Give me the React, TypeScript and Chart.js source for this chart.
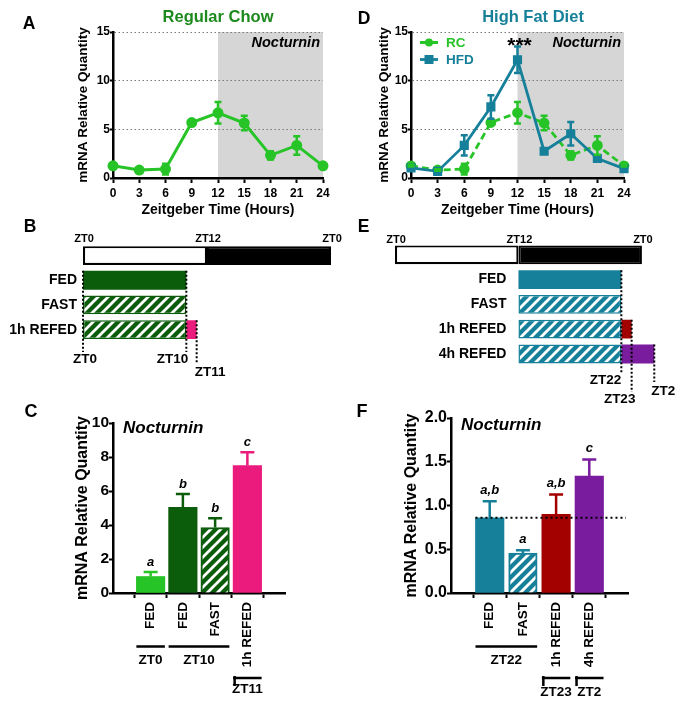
import React, { useEffect, useRef } from 'react';
import { Chart, registerables } from 'chart.js';

Chart.register(...registerables);

const FONT = '"Liberation Sans", Arial, Helvetica, sans-serif';
Chart.defaults.font.family = FONT;
Chart.defaults.color = '#000';

const GREEN = '#27c427';
const DK_GREEN = '#0b5d0b';
const TITLE_GREEN = '#1e8a1e';
const TEAL = '#16809a';
const MAGENTA = '#ea1b7c';
const RED = '#a30000';
const PURPLE = '#7a1c9e';
const SHADE = '#d6d6d6';

// ---- Panels A & D : time course ----
const hours = [0, 3, 6, 9, 12, 15, 18, 21, 24];
const rcMean = [1.25, 0.82, 0.92, 5.7, 6.7, 5.65, 2.33, 3.35, 1.25];
const rcErr = [0.08, 0.08, 0.55, 0.12, 1.1, 0.75, 0.42, 0.95, 0.08];
const hfdMean = [1.03, 0.68, 3.35, 7.3, 12.15, 2.75, 4.55, 2.0, 0.96];
const hfdErr = [0.12, 0.1, 1.05, 1.2, 1.35, 0.25, 1.2, 0.2, 0.1];
const lineYTicks = [0, 5, 10, 15];
const nightStart = 12;
const nightEnd = 24;

// ---- Panel B : schedule (regular chow) ----
const bRows = ['', 'FED', 'FAST', '1h REFED'];
const bLight = [[0, 12], null, null, null];
const bDark = [[12, 24], null, null, null];
const bFed = [null, [0, 10], null, null];
const bFast = [null, null, [0, 10], [0, 10]];
const bRefed = [null, null, null, [10, 11]];
const bTopTicks = [0, 12, 24];
const bMarkerTimes = [0, 10, 11];
const bMarkerLabels = ['ZT0', 'ZT10', 'ZT11'];

// ---- Panel E : schedule (high fat diet) ----
const eRows = ['', 'FED', 'FAST', '1h REFED', '4h REFED'];
const eLight = [[0, 12], null, null, null, null];
const eDark = [[12, 24], null, null, null, null];
const eFed = [null, [12, 22], null, null, null];
const eFast = [null, null, [12, 22], [12, 22], [12, 22]];
const eRefed1 = [null, null, null, [22, 23], null];
const eRefed4 = [null, null, null, null, [22, 25.2]];
const eTopTicks = [0, 12, 24];
const eMarkerTimes = [22, 23, 25.2];
const eMarkerLabels = ['ZT22', 'ZT23', 'ZT2'];

// ---- Panel C : bars (regular chow) ----
const cLabels = ['FED', 'FED', 'FAST', '1h REFED'];
const cMeans = [0.97, 5.04, 3.85, 7.5];
const cErr = [0.26, 0.78, 0.54, 0.78];
const cLetters = ['a', 'b', 'b', 'c'];
const cYTicks = [0, 2, 4, 6, 8, 10];
const cGroupLabels = ['ZT0', 'ZT10', 'ZT11'];
const cGroupFrom = [0, 1, 3];
const cGroupTo = [0, 2, 3];

// ---- Panel F : bars (high fat diet) ----
const fLabels = ['FED', 'FAST', '1h REFED', '4h REFED'];
const fMeans = [0.86, 0.455, 0.9, 1.335];
const fErr = [0.19, 0.035, 0.225, 0.19];
const fLetters = ['a,b', 'a', 'a,b', 'c'];
const fYTicks = [0, 0.5, 1, 1.5, 2];
const fRef = 0.86;
const fGroupLabels = ['ZT22', 'ZT23', 'ZT2'];
const fGroupFrom = [0, 2, 3];
const fGroupTo = [1, 2, 3];

// ---------- helpers ----------
function txt(ctx: CanvasRenderingContext2D, s: string, x: number, y: number, size: number, o: any = {}) {
  ctx.save();
  ctx.font = `${o.italic ? 'italic ' : ''}${o.weight ?? 'bold'} ${size}px ${FONT}`;
  ctx.fillStyle = o.color ?? '#000';
  ctx.textAlign = o.align ?? 'center';
  ctx.textBaseline = o.baseline ?? 'middle';
  ctx.fillText(s, x, y);
  ctx.restore();
}

function dotted(ctx: CanvasRenderingContext2D, x1: number, y1: number, x2: number, y2: number, w = 2, dash = [2, 2]) {
  ctx.save();
  ctx.strokeStyle = '#000';
  ctx.lineWidth = w;
  ctx.setLineDash(dash);
  ctx.beginPath();
  ctx.moveTo(x1, y1);
  ctx.lineTo(x2, y2);
  ctx.stroke();
  ctx.restore();
}

function solid(ctx: CanvasRenderingContext2D, x1: number, y1: number, x2: number, y2: number, w = 2.5, color = '#000') {
  ctx.save();
  ctx.strokeStyle = color;
  ctx.lineWidth = w;
  ctx.setLineDash([]);
  ctx.beginPath();
  ctx.moveTo(x1, y1);
  ctx.lineTo(x2, y2);
  ctx.stroke();
  ctx.restore();
}

function hatch(base: string) {
  const s = 10;
  const c = document.createElement('canvas');
  c.width = s;
  c.height = s;
  const g = c.getContext('2d')!;
  g.fillStyle = base;
  g.fillRect(0, 0, s, s);
  g.strokeStyle = '#ffffff';
  g.lineWidth = 2.8;
  g.beginPath();
  g.moveTo(-1, s + 1); g.lineTo(s + 1, -1);
  g.moveTo(-s / 2 - 1, s / 2 + 1); g.lineTo(s / 2 + 1, -s / 2 - 1);
  g.moveTo(s / 2 - 1, s * 1.5 + 1); g.lineTo(s * 1.5 + 1, s / 2 - 1);
  g.stroke();
  return g.createPattern(c, 'repeat') as CanvasPattern;
}

function drawErrorBars(chart: any, mode: 'both' | 'up', cap: number) {
  const ctx = chart.ctx as CanvasRenderingContext2D;
  const ys = chart.scales.y;
  chart.data.datasets.forEach((ds: any, di: number) => {
    if (!ds.errors) return;
    const meta = chart.getDatasetMeta(di);
    meta.data.forEach((el: any, i: number) => {
      const raw = ds.data[i];
      const v = typeof raw === 'number' ? raw : raw.y;
      const e = ds.errors[i];
      const x = el.x;
      const yHi = ys.getPixelForValue(v + e);
      const yLo = ys.getPixelForValue(mode === 'both' ? v - e : v);
      const color = Array.isArray(ds.errorColor) ? ds.errorColor[i] : ds.errorColor;
      ctx.save();
      ctx.strokeStyle = color;
      ctx.lineWidth = 2.5;
      ctx.setLineDash([]);
      ctx.beginPath();
      ctx.moveTo(x, yLo);
      ctx.lineTo(x, yHi);
      ctx.moveTo(x - cap / 2, yHi);
      ctx.lineTo(x + cap / 2, yHi);
      if (mode === 'both') {
        ctx.moveTo(x - cap / 2, yLo);
        ctx.lineTo(x + cap / 2, yLo);
      }
      ctx.stroke();
      ctx.restore();
    });
  });
}

const baseOpts = {
  responsive: false,
  animation: false as const,
  events: [] as any[],
};

// ---------- Line panels ----------
function lineScales(yAxisWidth: number, yTitleCenter: number) {
  return {
    x: {
      type: 'linear',
      min: 0,
      max: 24,
      afterBuildTicks: (s: any) => { s.ticks = hours.map((v) => ({ value: v })); },
      afterFit: (s: any) => { s.height = 47; },
      ticks: { font: { size: 12, weight: 'bold' }, color: '#000', padding: 3, autoSkip: false, maxRotation: 0 },
      grid: { drawOnChartArea: false, tickLength: 5, tickColor: '#000', tickWidth: 2 },
      border: { color: '#000', width: 2.5 },
      title: { display: true, text: 'Zeitgeber Time (Hours)', font: { size: 14, weight: 'bold' }, color: '#000', padding: { top: 0, bottom: 6.6 } },
    },
    y: {
      type: 'linear',
      min: 0,
      max: 15,
      afterBuildTicks: (s: any) => { s.ticks = lineYTicks.map((v) => ({ value: v })); },
      afterFit: (s: any) => { s.width = yAxisWidth; },
      ticks: { font: { size: 12, weight: 'bold' }, color: '#000', padding: 0 },
      grid: {
        color: (c: any) => (c.tick && c.tick.value === 0 ? 'rgba(0,0,0,0)' : '#7a7a7a'),
        lineWidth: 1,
        tickLength: 3,
        tickColor: '#000',
        tickWidth: 2,
      },
      border: { color: '#000', width: 2.5, dash: [1.5, 2.5] },
      title: { display: true, text: 'mRNA Relative Quantity', font: { size: 13.5, weight: 'bold' }, color: '#000', padding: { top: yTitleCenter - 8.1, bottom: 0 } },
    },
  };
}

const shadePlugin = {
  id: 'shade',
  beforeDraw(chart: any) {
    const { ctx, chartArea } = chart;
    const xs = chart.scales.x;
    const x1 = xs.getPixelForValue(nightStart);
    const x2 = xs.getPixelForValue(nightEnd);
    ctx.save();
    ctx.fillStyle = SHADE;
    ctx.fillRect(x1, chartArea.top, x2 - x1, chartArea.bottom - chartArea.top);
    ctx.restore();
  },
};

function buildA() {
  return {
    type: 'line',
    data: {
      datasets: [
        {
          data: hours.map((h, i) => ({ x: h, y: rcMean[i] })),
          errors: rcErr,
          errorColor: GREEN,
          borderColor: GREEN,
          backgroundColor: GREEN,
          pointBorderColor: GREEN,
          pointBackgroundColor: GREEN,
          borderWidth: 3,
          pointRadius: 4,
          tension: 0,
          clip: false,
        },
      ],
    },
    options: {
      ...baseOpts,
      layout: { padding: { left: 0, right: 20, top: 32, bottom: 0 } },
      plugins: { legend: { display: false }, tooltip: { enabled: false } },
      scales: lineScales(113, 83),
    },
    plugins: [
      shadePlugin,
      {
        id: 'decoA',
        afterDatasetsDraw(chart: any) { drawErrorBars(chart, 'both', 7); },
        afterDraw(chart: any) {
          const { ctx, chartArea } = chart;
          txt(ctx, 'A', 29, 24, 17.5);
          txt(ctx, 'Regular Chow', (chartArea.left + chartArea.right) / 2, 17, 16.5, { color: TITLE_GREEN });
          txt(ctx, 'Nocturnin', chartArea.right - 3, 43, 14.5, { italic: true, align: 'right' });
        },
      },
    ],
  };
}

function buildD() {
  return {
    type: 'line',
    data: {
      datasets: [
        {
          label: 'HFD',
          data: hours.map((h, i) => ({ x: h, y: hfdMean[i] })),
          errors: hfdErr,
          errorColor: TEAL,
          borderColor: TEAL,
          backgroundColor: TEAL,
          pointBorderColor: TEAL,
          pointBackgroundColor: TEAL,
          pointStyle: 'rect',
          borderWidth: 2.8,
          pointRadius: 4.5,
          tension: 0,
          clip: false,
        },
        {
          label: 'RC',
          data: hours.map((h, i) => ({ x: h, y: rcMean[i] })),
          errors: rcErr,
          errorColor: GREEN,
          borderColor: GREEN,
          backgroundColor: GREEN,
          pointBorderColor: GREEN,
          pointBackgroundColor: GREEN,
          borderDash: [7, 4],
          borderWidth: 2.8,
          pointRadius: 4,
          tension: 0,
          clip: false,
        },
      ],
    },
    options: {
      ...baseOpts,
      layout: { padding: { left: 0, right: 62, top: 32, bottom: 0 } },
      plugins: { legend: { display: false }, tooltip: { enabled: false } },
      scales: lineScales(68, 41),
    },
    plugins: [
      shadePlugin,
      {
        id: 'decoD',
        afterDatasetsDraw(chart: any) { drawErrorBars(chart, 'both', 7); },
        afterDraw(chart: any) {
          const { ctx, chartArea } = chart;
          const xs = chart.scales.x;
          txt(ctx, 'D', 21, 19.5, 17.5);
          txt(ctx, 'High Fat Diet', 190, 17, 16.5, { color: TEAL });
          txt(ctx, 'Nocturnin', chartArea.right - 3, 43, 14.5, { italic: true, align: 'right' });
          txt(ctx, '***', xs.getPixelForValue(12) + 2, 52, 21, { baseline: 'alphabetic' });
          // legend
          ctx.save();
          ctx.strokeStyle = GREEN; ctx.lineWidth = 2.8; ctx.setLineDash([7, 4]);
          ctx.beginPath(); ctx.moveTo(77, 42.5); ctx.lineTo(95, 42.5); ctx.stroke();
          ctx.setLineDash([]);
          ctx.fillStyle = GREEN; ctx.beginPath(); ctx.arc(86, 42.5, 4, 0, Math.PI * 2); ctx.fill();
          ctx.strokeStyle = TEAL; ctx.beginPath(); ctx.moveTo(77, 59.5); ctx.lineTo(95, 59.5); ctx.stroke();
          ctx.fillStyle = TEAL; ctx.fillRect(86 - 4.5, 59.5 - 4.5, 9, 9);
          ctx.restore();
          txt(ctx, 'RC', 103, 43, 13.5, { color: GREEN, align: 'left' });
          txt(ctx, 'HFD', 103, 60, 13.5, { color: TEAL, align: 'left' });
        },
      },
    ],
  };
}

// ---------- Schedule panels ----------
function scheduleDecor(id: string, cfg: any) {
  return {
    id,
    afterDraw(chart: any) {
      const ctx = chart.ctx as CanvasRenderingContext2D;
      const xs = chart.scales.x;
      const ys = chart.scales.y;
      const half = (ys.getPixelForValue(1) - ys.getPixelForValue(0)) * 0.76 / 2;
      txt(ctx, cfg.letter, cfg.letterX, cfg.letterY, 17.5);
      cfg.topTicks.forEach((t: number) => {
        txt(ctx, 'ZT' + (t % 24), xs.getPixelForValue(t) + 1, cfg.topY, 11);
      });
      cfg.rows.forEach((r: string, i: number) => {
        if (!r) return;
        txt(ctx, r, xs.getPixelForValue(cfg.labelAt) - cfg.labelGap, ys.getPixelForValue(i), 14, { align: 'right' });
      });
      cfg.markerTimes.forEach((t: number, i: number) => {
        const m = cfg.markerLayout[i];
        const x = xs.getPixelForValue(t);
        dotted(ctx, x, ys.getPixelForValue(m.row) - half, x, m.yEnd);
        txt(ctx, cfg.markerLabels[i], x + m.dx, m.labelY, 13.5, { align: m.align });
      });
    },
  };
}

function buildB() {
  const hg = hatch(DK_GREEN);
  return {
    type: 'bar',
    data: {
      labels: bRows,
      datasets: [
        { data: bLight, backgroundColor: '#ffffff', borderColor: '#000', borderWidth: 2.2, borderSkipped: false },
        { data: bDark, backgroundColor: '#000', borderColor: '#000', borderWidth: 2, borderSkipped: false },
        { data: bFed, backgroundColor: DK_GREEN, borderWidth: 0 },
        { data: bFast, backgroundColor: hg, borderColor: DK_GREEN, borderWidth: 1.5, borderSkipped: false },
        { data: bRefed, backgroundColor: MAGENTA, borderWidth: 0 },
      ],
    },
    options: {
      ...baseOpts,
      indexAxis: 'y',
      datasets: { bar: { grouped: false, barPercentage: 0.76, categoryPercentage: 1 } },
      layout: { padding: { left: 83, right: 12, top: 38.2, bottom: 38 } },
      plugins: { legend: { display: false }, tooltip: { enabled: false } },
      scales: {
        x: { type: 'linear', min: 0, max: 24, display: false },
        y: { type: 'category', display: false },
      },
    },
    plugins: [
      scheduleDecor('decoB', {
        letter: 'B', letterX: 30, letterY: 22, topTicks: bTopTicks, topY: 34,
        rows: bRows, labelAt: 0, labelGap: 6,
        markerTimes: bMarkerTimes, markerLabels: bMarkerLabels,
        markerLayout: [
          { row: 1, yEnd: 147, labelY: 154.5, align: 'center', dx: 2 },
          { row: 1, yEnd: 147, labelY: 154.5, align: 'right', dx: 2 },
          { row: 3, yEnd: 158, labelY: 167, align: 'left', dx: -2 },
        ],
      }),
    ],
  };
}

function buildE() {
  const ht = hatch(TEAL);
  return {
    type: 'bar',
    data: {
      labels: eRows,
      datasets: [
        { data: eLight, backgroundColor: '#ffffff', borderColor: '#000', borderWidth: 2.2, borderSkipped: false },
        { data: eDark, backgroundColor: '#000', borderColor: '#000', borderWidth: 2, borderSkipped: false },
        { data: eFed, backgroundColor: TEAL, borderWidth: 0 },
        { data: eFast, backgroundColor: ht, borderColor: TEAL, borderWidth: 1.5, borderSkipped: false },
        { data: eRefed1, backgroundColor: RED, borderWidth: 0 },
        { data: eRefed4, backgroundColor: PURPLE, borderWidth: 0 },
      ],
    },
    options: {
      ...baseOpts,
      indexAxis: 'y',
      datasets: { bar: { grouped: false, barPercentage: 0.76, categoryPercentage: 1 } },
      layout: { padding: { left: 52, right: 23.5, top: 37.4, bottom: 38.6 } },
      plugins: { legend: { display: false }, tooltip: { enabled: false } },
      scales: {
        x: { type: 'linear', min: 0, max: 26, display: false },
        y: { type: 'category', display: false },
      },
    },
    plugins: [
      scheduleDecor('decoE', {
        letter: 'E', letterX: 20.5, letterY: 22, topTicks: eTopTicks, topY: 35,
        rows: eRows, labelAt: 12, labelGap: 12,
        markerTimes: eMarkerTimes, markerLabels: eMarkerLabels,
        markerLayout: [
          { row: 1, yEnd: 168, labelY: 175.5, align: 'right', dx: 0 },
          { row: 3, yEnd: 187, labelY: 194, align: 'center', dx: -12 },
          { row: 4, yEnd: 177, labelY: 186, align: 'left', dx: -3 },
        ],
      }),
    ],
  };
}

// ---------- Bar panels ----------
function barScales(o: any) {
  return {
    x: {
      type: 'linear',
      min: -0.5,
      max: 3.5,
      afterBuildTicks: (s: any) => { s.ticks = o.labels.map((_: string, i: number) => ({ value: i })); },
      afterFit: (s: any) => { s.height = 114; },
      ticks: {
        callback: (v: any) => o.labels[v] ?? '',
        font: { size: 13.5, weight: 'bold' },
        color: '#000',
        minRotation: 90,
        maxRotation: 90,
        autoSkip: false,
        padding: 4,
      },
      grid: { drawOnChartArea: false, tickLength: 5, tickColor: '#000', tickWidth: 2 },
      border: { color: '#000', width: 2.5 },
    },
    y: {
      type: 'linear',
      min: 0,
      max: o.yMax,
      afterBuildTicks: (s: any) => { s.ticks = o.yTicks.map((v: number) => ({ value: v })); },
      afterFit: (s: any) => { s.width = o.yAxisWidth; },
      ticks: { callback: o.fmt, font: { size: o.tickSize, weight: 'bold' }, color: '#000', padding: 0 },
      grid: { drawOnChartArea: false, tickLength: 4, tickColor: '#000', tickWidth: 2 },
      border: { color: '#000', width: 2.5 },
      title: { display: true, text: 'mRNA Relative Quantity', font: { size: 16, weight: 'bold' }, color: '#000', padding: { top: o.yTitleCenter - 9.6, bottom: 0 } },
    },
  };
}

function barDecor(id: string, cfg: any) {
  return {
    id,
    afterDatasetsDraw(chart: any) { drawErrorBars(chart, 'up', 14); },
    afterDraw(chart: any) {
      const ctx = chart.ctx as CanvasRenderingContext2D;
      const xs = chart.scales.x;
      const ys = chart.scales.y;
      const hw = 14.25;
      txt(ctx, cfg.letter, cfg.letterX, cfg.letterY, 18);
      txt(ctx, 'Nocturnin', cfg.nocX, cfg.nocY, 17, { italic: true, align: 'left' });
      if (cfg.ref !== undefined) {
        const y = ys.getPixelForValue(cfg.ref);
        dotted(ctx, xs.getPixelForValue(0) - hw, y, chart.chartArea.right - 2, y, 2, [2, 3]);
      }
      cfg.means.forEach((v: number, i: number) => {
        txt(ctx, cfg.letters[i], xs.getPixelForValue(i), ys.getPixelForValue(v + cfg.errs[i]) - cfg.letterGap, 13, { italic: true });
      });
      cfg.groupLabels.forEach((g: string, i: number) => {
        const x1 = xs.getPixelForValue(cfg.groupFrom[i]) - hw;
        const x2 = xs.getPixelForValue(cfg.groupTo[i]) + hw;
        const low = cfg.groupFrom[i] === cfg.groupTo[i] && cfg.groupFrom[i] >= cfg.lowFrom;
        const ly = low ? 298 : 266.5;
        solid(ctx, x1, ly, x2, ly, 2.5);
        if (low) solid(ctx, x1 + 1.5, ly - 2, x1 + 1.5, ly + 8, 2.5);
        txt(ctx, g, (x1 + x2) / 2, low ? cfg.lowLabelY : 280.5, 13.5);
      });
    },
  };
}

function buildC() {
  const hg = hatch(DK_GREEN);
  const fills = [GREEN, DK_GREEN, hg, MAGENTA];
  const edges = [GREEN, DK_GREEN, DK_GREEN, MAGENTA];
  return {
    type: 'bar',
    data: {
      datasets: [
        {
          data: cMeans.map((v, i) => ({ x: i, y: v })),
          backgroundColor: fills,
          borderColor: edges,
          borderWidth: [0, 0, 2, 0],
          barThickness: 28.5,
          errors: cErr,
          errorColor: edges,
        },
      ],
    },
    options: {
      ...baseOpts,
      layout: { padding: { left: 0, right: 58, top: 43, bottom: 0 } },
      plugins: { legend: { display: false }, tooltip: { enabled: false } },
      scales: barScales({ labels: cLabels, yMax: 10, yTicks: cYTicks, fmt: (v: number) => String(v), tickSize: 15.5, yAxisWidth: 113, yTitleCenter: 83 }),
    },
    plugins: [
      barDecor('decoC', {
        letter: 'C', letterX: 31, letterY: 32, nocX: 123, nocY: 48,
        means: cMeans, errs: cErr, letters: cLetters, letterGap: 10,
        groupLabels: cGroupLabels, groupFrom: cGroupFrom, groupTo: cGroupTo, lowFrom: 3, lowLabelY: 309,
      }),
    ],
  };
}

function buildF() {
  const ht = hatch(TEAL);
  const fills = [TEAL, ht, RED, PURPLE];
  const edges = [TEAL, TEAL, RED, PURPLE];
  return {
    type: 'bar',
    data: {
      datasets: [
        {
          data: fMeans.map((v, i) => ({ x: i, y: v })),
          backgroundColor: fills,
          borderColor: edges,
          borderWidth: [0, 2, 0, 0],
          barThickness: 28.5,
          errors: fErr,
          errorColor: edges,
        },
      ],
    },
    options: {
      ...baseOpts,
      layout: { padding: { left: 0, right: 58, top: 38, bottom: 0 } },
      plugins: { legend: { display: false }, tooltip: { enabled: false } },
      scales: barScales({ labels: fLabels, yMax: 2, yTicks: fYTicks, fmt: (v: number) => v.toFixed(1), tickSize: 16, yAxisWidth: 108, yTitleCenter: 69 }),
    },
    plugins: [
      barDecor('decoF', {
        letter: 'F', letterX: 19, letterY: 32, nocX: 118, nocY: 45, ref: fRef,
        means: fMeans, errs: fErr, letters: fLetters, letterGap: 11,
        groupLabels: fGroupLabels, groupFrom: fGroupFrom, groupTo: fGroupTo, lowFrom: 2, lowLabelY: 312,
      }),
    ],
  };
}

function ChartBox({ left, top, width, height, build }: { left: number; top: number; width: number; height: number; build: () => any }) {
  const ref = useRef<HTMLCanvasElement>(null);
  useEffect(() => {
    const chart = new Chart(ref.current as HTMLCanvasElement, build());
    return () => chart.destroy();
  }, [build]);
  return (
    <canvas
      ref={ref}
      width={width}
      height={height}
      style={{ position: 'absolute', left, top, width, height, display: 'block' }}
    />
  );
}

export default function App() {
  return (
    <div style={{ position: 'absolute', left: 0, top: 0, width: 686, height: 707, background: '#fff', overflow: 'hidden' }}>
      <ChartBox left={0} top={0} width={343} height={225} build={buildA} />
      <ChartBox left={343} top={0} width={343} height={225} build={buildD} />
      <ChartBox left={0} top={380} width={343} height={327} build={buildC} />
      <ChartBox left={343} top={380} width={343} height={327} build={buildF} />
      <ChartBox left={0} top={205} width={343} height={175} build={buildB} />
      <ChartBox left={343} top={205} width={343} height={200} build={buildE} />
    </div>
  );
}
